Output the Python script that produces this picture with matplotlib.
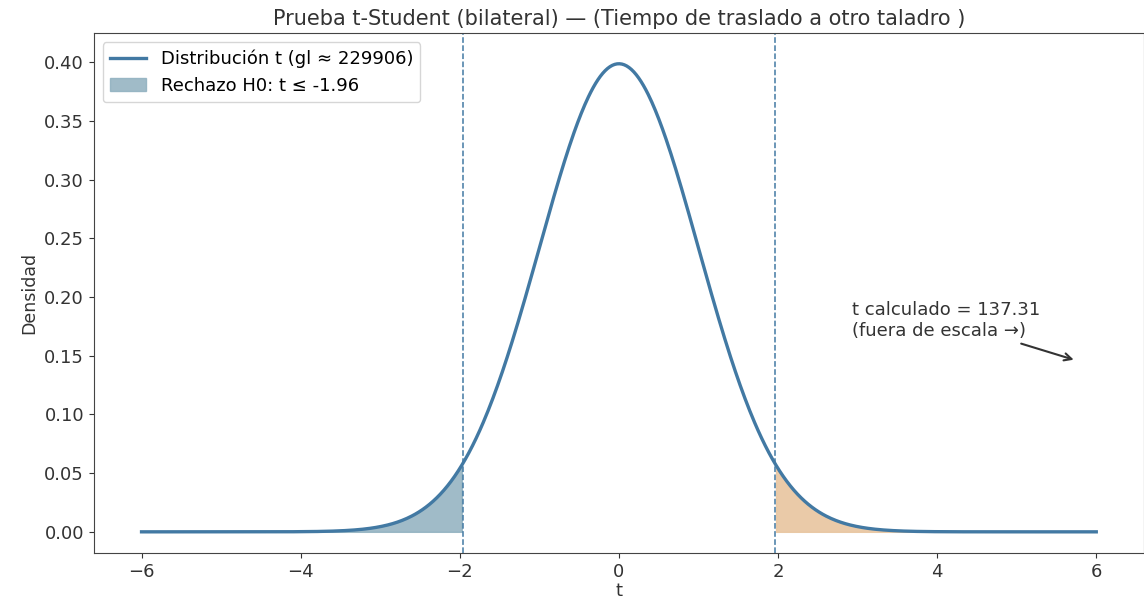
import math
import numpy as np
import matplotlib
matplotlib.use("Agg")
import matplotlib.pyplot as plt

# values
gl = 229906
t_crit = 1.96
t_calc = 137.31
x_min, x_max = -6, 6
titulo = "Prueba t-Student (bilateral) — (Tiempo de traslado a otro taladro )"
xticks = [-6, -4, -2, 0, 2, 4, 6]
yticks = [0.00, 0.05, 0.10, 0.15, 0.20, 0.25, 0.30, 0.35, 0.40]


def t_pdf(x, df):
    # densidad t-Student
    c = math.lgamma((df + 1) / 2) - math.lgamma(df / 2) - 0.5 * math.log(df * math.pi)
    return np.exp(c - (df + 1) / 2 * np.log1p(x ** 2 / df))


x = np.linspace(x_min, x_max, 800)
y = t_pdf(x, gl)

fig, ax = plt.subplots(figsize=(11.44, 6.03), dpi=100)
fig.subplots_adjust(left=0.082, right=1.0, top=0.945, bottom=0.083)

linea_color = '#4279a3'
ax.plot(x, y, color=linea_color, linewidth=2.4,
        label='Distribución t (gl ≈ {})'.format(gl))

izq = x <= -t_crit
der = x >= t_crit
ax.fill_between(x[izq], 0, y[izq], color='#8fb0bf', alpha=0.85,
                label='Rechazo H0: t ≤ -{:.2f}'.format(t_crit))
ax.fill_between(x[der], 0, y[der], color='#e9c7a3', alpha=0.95)

ax.axvline(-t_crit, color=linea_color, linestyle='--', linewidth=1.1)
ax.axvline(t_crit, color=linea_color, linestyle='--', linewidth=1.1)

ax.annotate('t calculado = {:.2f}\n(fuera de escala →)'.format(t_calc),
            xy=(5.75, 0.146), xytext=(2.93, 0.18),
            fontsize=13, color='#333333', ha='left', va='center',
            arrowprops=dict(arrowstyle='->', color='#333333', linewidth=1.5))

ax.set_xlim(-6.6, 6.6)
ax.set_ylim(-0.018, 0.425)
ax.set_xticks(xticks)
ax.set_xticklabels(['−6', '−4', '−2', '0', '2', '4', '6'])
ax.set_yticks(yticks)
ax.tick_params(labelsize=13, colors='#333333')
ax.set_xlabel('t', fontsize=13, color='#333333', labelpad=1)
ax.set_ylabel('Densidad', fontsize=12.5, color='#333333')
ax.set_title(titulo, fontsize=15, color='#333333', pad=6)

ax.legend(loc='upper left', fontsize=13, frameon=True)

for s in ax.spines.values():
    s.set_color('#444444')

fig.savefig('out.png', dpi=100)
